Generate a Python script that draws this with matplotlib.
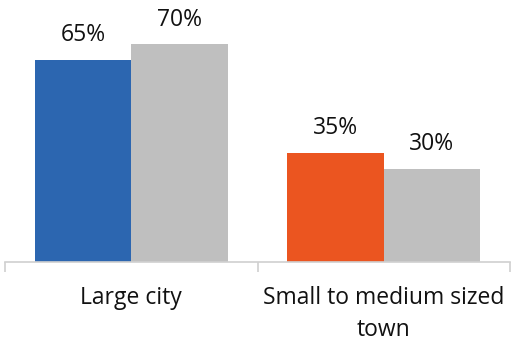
import matplotlib.pyplot as plt
import numpy as np

plt.rcParams['font.family'] = ['Open Sans', 'DejaVu Sans']

# Anteil je Siedlungstyp
categories = ['Large city', 'Small to medium sized\ntown']
first_vals = [65, 35]
second_vals = [70, 30]
first_colors = ['#2c66b0', '#eb5520']
gray = '#bfbfbf'

fig = plt.figure(figsize=(5.18, 3.42), dpi=100)
ax = fig.add_axes([5 / 518, 1 - 262 / 342, 505 / 518, 218 / 342])

x = np.arange(len(categories))
w = 0.382
b1 = ax.bar(x - w / 2, first_vals, w, color=first_colors)
b2 = ax.bar(x + w / 2, second_vals, w, color=gray)

for bars, vals in [(b1, first_vals), (b2, second_vals)]:
    for r, v in zip(bars, vals):
        ax.annotate(f'{v}%', (r.get_x() + r.get_width() / 2, v),
                    xytext=(0, 9), textcoords='offset points',
                    ha='center', va='bottom', fontsize=16.5, color='#111111',
                    annotation_clip=False)

ax.set_xlim(-0.5, 1.5)
ax.set_ylim(0, 70)
ax.set_yticks([])
for s in ['top', 'right', 'left']:
    ax.spines[s].set_visible(False)
ax.spines['bottom'].set_color('#d0d0d0')
ax.spines['bottom'].set_linewidth(1.2)

ax.set_xticks([-0.5, 0.5, 1.5])
ax.set_xticklabels([])
ax.tick_params(axis='x', length=7, width=1.2, color='#d0d0d0')
ax.set_xticks(x, minor=True)
ax.set_xticklabels(categories, minor=True, fontsize=16.5, color='#111111',
                   linespacing=1.45)
ax.tick_params(axis='x', which='minor', length=0, pad=17.5)

fig.savefig('out.png', dpi=100)
